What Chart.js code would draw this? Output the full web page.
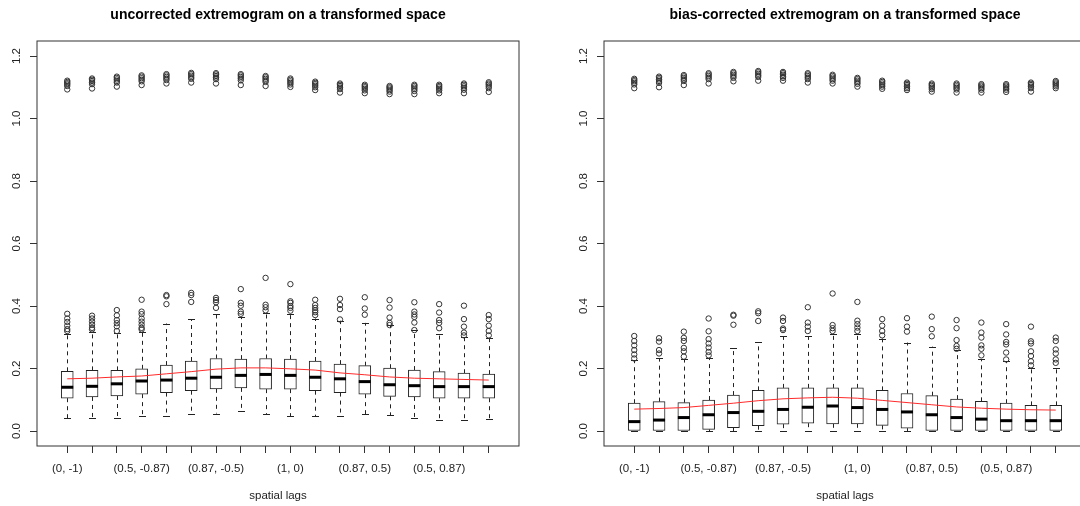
<!DOCTYPE html>
<html>
<head>
<meta charset="utf-8">
<script src="https://cdn.jsdelivr.net/npm/chart.js@4.4.1/dist/chart.umd.min.js"></script>
<style>
  html, body { margin: 0; padding: 0; background: #fff; overflow: hidden; }
  #wrap { position: relative; width: 1080px; height: 506px; overflow: hidden; }
  #left { position: absolute; left: 0; top: 0; }
  #right { position: absolute; left: 540px; top: 0; }
</style>
</head>
<body>
<div id="wrap">
  <canvas id="left" width="540" height="506"></canvas>
  <canvas id="right" width="560" height="506"></canvas>
</div>
<script>
// spatial lags, only the labels R had room for are shown
const lagLabels = ["(0, -1)", "", "", "(0.5, -0.87)", "", "", "(0.87, -0.5)", "", "", "(1, 0)", "", "", "(0.87, 0.5)", "", "", "(0.5, 0.87)", "", ""];
const yTicks = [0, 0.2, 0.4, 0.6, 0.8, 1.0, 1.2];

// uncorrected
const leftQ1 = [0.105, 0.109, 0.112, 0.118, 0.123, 0.129, 0.135, 0.138, 0.134, 0.134, 0.129, 0.123, 0.118, 0.111, 0.109, 0.105, 0.105, 0.105];
const leftMed = [0.140, 0.143, 0.151, 0.160, 0.163, 0.169, 0.172, 0.178, 0.181, 0.178, 0.172, 0.167, 0.158, 0.148, 0.145, 0.142, 0.142, 0.142];
const leftQ3 = [0.191, 0.194, 0.194, 0.199, 0.211, 0.224, 0.232, 0.230, 0.232, 0.230, 0.224, 0.214, 0.209, 0.201, 0.195, 0.190, 0.185, 0.182];
const leftLow = [0.041, 0.041, 0.043, 0.047, 0.048, 0.053, 0.056, 0.063, 0.054, 0.048, 0.047, 0.047, 0.053, 0.051, 0.041, 0.035, 0.035, 0.038];
const leftHigh = [0.309, 0.318, 0.315, 0.318, 0.344, 0.357, 0.375, 0.365, 0.378, 0.375, 0.360, 0.353, 0.346, 0.338, 0.322, 0.310, 0.300, 0.299];
const leftMean = [0.167, 0.169, 0.173, 0.176, 0.183, 0.190, 0.198, 0.202, 0.202, 0.199, 0.195, 0.186, 0.180, 0.173, 0.169, 0.167, 0.165, 0.163];
const leftOutLow = [
  [0.375, 0.360, 0.349, 0.337, 0.326, 0.320],
  [0.369, 0.360, 0.350, 0.340, 0.330, 0.325],
  [0.387, 0.370, 0.355, 0.345, 0.335, 0.320],
  [0.420, 0.382, 0.374, 0.360, 0.350, 0.340, 0.330, 0.325],
  [0.435, 0.431, 0.406],
  [0.442, 0.435, 0.413],
  [0.426, 0.419, 0.412, 0.394],
  [0.454, 0.410, 0.401, 0.382, 0.375],
  [0.490, 0.404, 0.396, 0.386],
  [0.470, 0.415, 0.410, 0.400, 0.394, 0.385],
  [0.420, 0.403, 0.394, 0.386, 0.380, 0.371],
  [0.423, 0.403, 0.390, 0.357],
  [0.428, 0.392, 0.372],
  [0.419, 0.395, 0.363, 0.346, 0.339],
  [0.412, 0.382, 0.373, 0.365, 0.347, 0.323],
  [0.406, 0.379, 0.355, 0.346, 0.329],
  [0.401, 0.358, 0.334, 0.315, 0.306],
  [0.371, 0.358, 0.337, 0.320, 0.306]
];
const leftOutHigh = [
  [1.121, 1.117, 1.113, 1.109, 1.104, 1.093],
  [1.128, 1.124, 1.120, 1.115, 1.110, 1.096],
  [1.134, 1.130, 1.125, 1.120, 1.115, 1.102],
  [1.138, 1.134, 1.129, 1.124, 1.119, 1.107],
  [1.142, 1.138, 1.133, 1.128, 1.123, 1.112],
  [1.146, 1.142, 1.137, 1.132, 1.127, 1.115],
  [1.145, 1.141, 1.136, 1.131, 1.126, 1.112],
  [1.142, 1.138, 1.133, 1.128, 1.122, 1.107],
  [1.136, 1.132, 1.127, 1.122, 1.117, 1.104],
  [1.128, 1.124, 1.119, 1.114, 1.109, 1.101],
  [1.118, 1.114, 1.110, 1.105, 1.100, 1.091],
  [1.112, 1.108, 1.104, 1.099, 1.094, 1.083],
  [1.108, 1.104, 1.100, 1.095, 1.090, 1.081],
  [1.104, 1.100, 1.096, 1.091, 1.086, 1.078],
  [1.108, 1.104, 1.099, 1.094, 1.088, 1.078],
  [1.108, 1.104, 1.100, 1.095, 1.090, 1.081],
  [1.112, 1.108, 1.103, 1.098, 1.092, 1.081],
  [1.116, 1.112, 1.108, 1.103, 1.097, 1.085]
];

// bias-corrected
const rightQ1 = [0, 0, 0, 0.005, 0.011, 0.017, 0.022, 0.025, 0.023, 0.023, 0.018, 0.009, 0, 0, 0, 0, 0, 0];
const rightMed = [0.030, 0.035, 0.043, 0.052, 0.059, 0.063, 0.069, 0.076, 0.080, 0.075, 0.069, 0.061, 0.052, 0.043, 0.038, 0.033, 0.033, 0.033];
const rightQ3 = [0.089, 0.094, 0.091, 0.099, 0.115, 0.130, 0.138, 0.138, 0.138, 0.138, 0.130, 0.120, 0.113, 0.102, 0.095, 0.089, 0.082, 0.082];
const rightLow = [0, 0, 0, 0, 0, 0, 0, 0, 0, 0, 0, 0, 0, 0, 0, 0, 0, 0];
const rightHigh = [0.226, 0.232, 0.229, 0.234, 0.267, 0.284, 0.304, 0.304, 0.310, 0.312, 0.296, 0.283, 0.270, 0.258, 0.229, 0.224, 0.202, 0.202];
const rightMean = [0.070, 0.072, 0.075, 0.082, 0.089, 0.097, 0.103, 0.106, 0.108, 0.105, 0.098, 0.091, 0.084, 0.077, 0.073, 0.070, 0.068, 0.067];
const rightOutLow = [
  [0.304, 0.288, 0.274, 0.259, 0.245, 0.232],
  [0.297, 0.286, 0.259, 0.248],
  [0.318, 0.298, 0.288, 0.266, 0.255, 0.238],
  [0.360, 0.319, 0.294, 0.280, 0.267, 0.253, 0.242],
  [0.372, 0.369, 0.340],
  [0.383, 0.377, 0.352],
  [0.363, 0.352, 0.328, 0.323],
  [0.396, 0.347, 0.334, 0.320],
  [0.440, 0.339, 0.329, 0.320],
  [0.413, 0.353, 0.342, 0.331, 0.320],
  [0.358, 0.337, 0.320, 0.306],
  [0.361, 0.334, 0.318],
  [0.366, 0.326, 0.303],
  [0.355, 0.329, 0.291, 0.272, 0.263],
  [0.347, 0.315, 0.299, 0.274, 0.263, 0.242],
  [0.342, 0.309, 0.285, 0.277, 0.251, 0.229],
  [0.334, 0.287, 0.280, 0.255, 0.240, 0.223, 0.210],
  [0.299, 0.288, 0.261, 0.248, 0.229, 0.218]
];
const rightOutHigh = [
  [1.127, 1.123, 1.119, 1.114, 1.109, 1.097],
  [1.134, 1.130, 1.125, 1.120, 1.114, 1.100],
  [1.139, 1.135, 1.130, 1.125, 1.120, 1.107],
  [1.145, 1.141, 1.136, 1.131, 1.126, 1.112],
  [1.149, 1.145, 1.140, 1.135, 1.130, 1.119],
  [1.152, 1.148, 1.143, 1.138, 1.133, 1.121],
  [1.149, 1.145, 1.140, 1.135, 1.130, 1.121],
  [1.145, 1.141, 1.136, 1.131, 1.126, 1.115],
  [1.140, 1.136, 1.131, 1.126, 1.121, 1.112],
  [1.130, 1.126, 1.121, 1.116, 1.111, 1.102],
  [1.121, 1.117, 1.112, 1.107, 1.102, 1.095],
  [1.115, 1.111, 1.107, 1.102, 1.097, 1.091],
  [1.112, 1.108, 1.104, 1.099, 1.094, 1.086],
  [1.112, 1.108, 1.103, 1.098, 1.093, 1.083],
  [1.110, 1.106, 1.102, 1.097, 1.092, 1.083],
  [1.110, 1.106, 1.102, 1.097, 1.092, 1.085],
  [1.115, 1.111, 1.107, 1.102, 1.097, 1.086],
  [1.120, 1.116, 1.112, 1.108, 1.103, 1.097]
];

const lagIndex = lagLabels.map((_, i) => i + 1);
const INK = "#222";
const FONT = "'Liberation Sans', Arial, sans-serif";

// whiskers, medians, frame and main title (R style)
const boxParts = {
  id: "boxParts",
  beforeDatasetsDraw(chart, args, opts) {
    const { ctx, scales: { x, y } } = chart;
    ctx.save();
    ctx.strokeStyle = INK;
    ctx.lineWidth = 1;
    lagIndex.forEach((v, i) => {
      const px = Math.round(x.getPixelForValue(v)) + 0.5;
      ctx.setLineDash([4, 4]);
      ctx.beginPath();
      ctx.moveTo(px, y.getPixelForValue(opts.q3[i]));
      ctx.lineTo(px, y.getPixelForValue(opts.hi[i]));
      ctx.moveTo(px, y.getPixelForValue(opts.q1[i]));
      ctx.lineTo(px, y.getPixelForValue(opts.lo[i]));
      ctx.stroke();
      ctx.setLineDash([]);
      ctx.beginPath();
      [opts.hi[i], opts.lo[i]].forEach(w => {
        const py = Math.round(y.getPixelForValue(w)) + 0.5;
        ctx.moveTo(px - 3.5, py);
        ctx.lineTo(px + 3.5, py);
      });
      ctx.stroke();
    });
    ctx.restore();
  },
  afterDatasetDraw(chart, args, opts) {
    if (args.index !== 0) return;
    const { ctx, scales: { x, y } } = chart;
    ctx.save();
    ctx.strokeStyle = "#000";
    ctx.lineWidth = 3;
    lagIndex.forEach((v, i) => {
      const px = x.getPixelForValue(v);
      const py = y.getPixelForValue(opts.med[i]);
      ctx.beginPath();
      ctx.moveTo(px - 6, py);
      ctx.lineTo(px + 6, py);
      ctx.stroke();
    });
    ctx.restore();
  },
  afterDraw(chart, args, opts) {
    const { ctx, chartArea: a } = chart;
    ctx.save();
    ctx.strokeStyle = "#333";
    ctx.lineWidth = 1;
    ctx.strokeRect(a.left, a.top, a.right - a.left, a.bottom - a.top);
    ctx.fillStyle = "#000";
    ctx.font = "bold 14px " + FONT;
    ctx.textAlign = "center";
    ctx.textBaseline = "middle";
    ctx.fillText(opts.title, (a.left + a.right) / 2, 15);
    ctx.restore();
  }
};

function makePanel(id, title, q1, med, q3, lo, hi, mean, outLow, outHigh, axisWidth, padRight) {
  const boxes = lagIndex.map((v, i) => ({ x: v, y: [q1[i], q3[i]] }));
  const meanPts = lagIndex.map((v, i) => ({ x: v, y: mean[i] }));
  const outPts = [];
  lagIndex.forEach((v, i) => {
    outLow[i].concat(outHigh[i]).forEach(o => outPts.push({ x: v, y: o }));
  });

  return new Chart(document.getElementById(id), {
    type: "bar",
    data: {
      datasets: [
        {
          type: "bar",
          data: boxes,
          backgroundColor: "#fff",
          borderColor: INK,
          borderWidth: 1,
          borderSkipped: false,
          barThickness: 12,
          order: 3
        },
        {
          type: "scatter",
          data: outPts,
          pointRadius: 2.7,
          borderWidth: 1,
          borderColor: "#333",
          backgroundColor: "rgba(0,0,0,0)",
          order: 2
        },
        {
          type: "line",
          data: meanPts,
          borderColor: "#ff2a2a",
          borderWidth: 1,
          pointRadius: 0,
          fill: false,
          tension: 0,
          order: 1
        }
      ]
    },
    options: {
      responsive: false,
      animation: false,
      devicePixelRatio: 1,
      events: [],
      layout: { padding: { left: 0, right: padRight, top: 41, bottom: 0 } },
      plugins: {
        legend: { display: false },
        tooltip: { enabled: false },
        boxParts: { title: title, q1: q1, q3: q3, med: med, lo: lo, hi: hi }
      },
      scales: {
        x: {
          type: "linear",
          min: -0.22,
          max: 19.22,
          offset: false,
          afterBuildTicks: s => { s.ticks = lagIndex.map(v => ({ value: v })); },
          afterFit: s => { s.height = 60; },
          grid: { display: true, drawOnChartArea: false, drawTicks: true, tickLength: 7, color: "#333", offset: false },
          border: { display: false },
          ticks: {
            autoSkip: false,
            maxRotation: 0,
            minRotation: 0,
            padding: 9,
            color: INK,
            font: { family: FONT, size: 11.5 },
            callback: v => lagLabels[v - 1] || ""
          },
          title: {
            display: true,
            text: "spatial lags",
            color: INK,
            font: { family: FONT, size: 11.5 },
            padding: { top: 0, bottom: 3 }
          }
        },
        y: {
          type: "linear",
          min: -0.048,
          max: 1.248,
          afterBuildTicks: s => { s.ticks = yTicks.map(v => ({ value: v })); },
          afterFit: s => { s.width = axisWidth; },
          grid: { display: true, drawOnChartArea: false, drawTicks: true, tickLength: 7, color: "#333" },
          border: { display: false },
          ticks: {
            minRotation: 90,
            maxRotation: 90,
            crossAlign: "center",
            padding: 5,
            color: INK,
            font: { family: FONT, size: 11.5 },
            callback: v => v.toFixed(1)
          }
        }
      }
    },
    plugins: [boxParts]
  });
}

makePanel("left", "uncorrected extremogram on a transformed space",
  leftQ1, leftMed, leftQ3, leftLow, leftHigh, leftMean, leftOutLow, leftOutHigh, 37, 21);
makePanel("right", "bias-corrected extremogram on a transformed space",
  rightQ1, rightMed, rightQ3, rightLow, rightHigh, rightMean, rightOutLow, rightOutHigh, 64, 14);
</script>
</body>
</html>
